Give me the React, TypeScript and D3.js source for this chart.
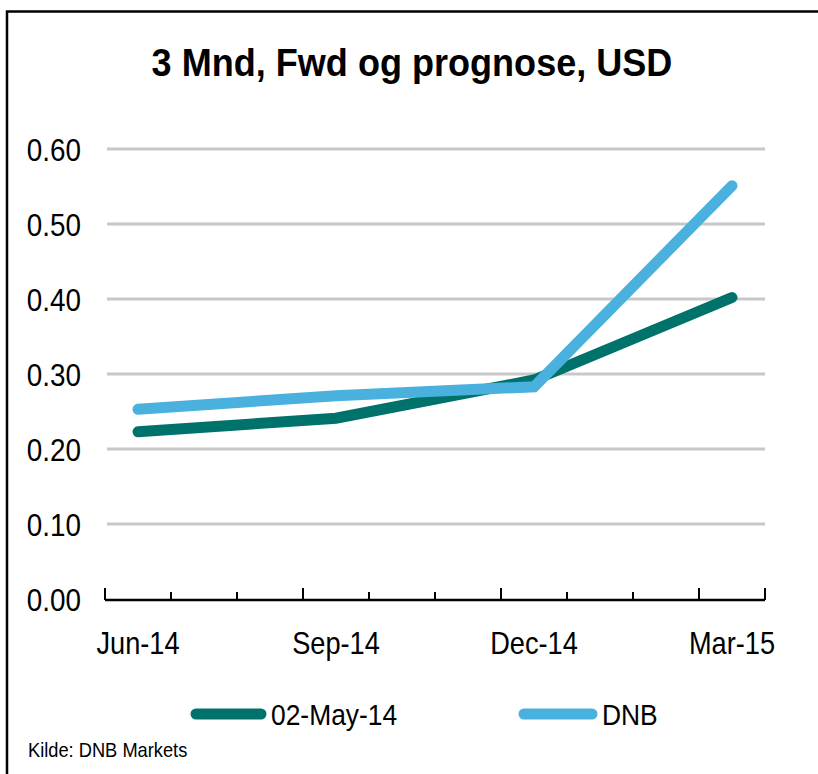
import React from 'react';
import * as d3 from 'd3';

const months = ['Jun-14', 'Jul-14', 'Aug-14', 'Sep-14', 'Oct-14', 'Nov-14', 'Dec-14', 'Jan-15', 'Feb-15', 'Mar-15'];
const pointMonths = ['Jun-14', 'Sep-14', 'Dec-14', 'Mar-15'];
const fwd = [0.223, 0.241, 0.292, 0.402];
const dnb = [0.253, 0.271, 0.283, 0.551];
const yTicks = [0, 0.1, 0.2, 0.3, 0.4, 0.5, 0.6];
const seriesNames = ['02-May-14', 'DNB'];

const W = 818;
const H = 774;
const FONT = '"Liberation Sans", Arial, sans-serif';
const GREEN = '#00726c';
const BLUE = '#4ab1df';

// narrow-looking text: squeeze horizontally
function Narrow(props: { x: number; y: number; sx: number; size: number; anchor?: string; dy?: string; bold?: boolean; children: React.ReactNode }) {
  return (
    <text
      transform={`translate(${props.x},${props.y}) scale(${props.sx},1)`}
      dy={props.dy}
      textAnchor={props.anchor || 'start'}
      fontFamily={FONT}
      fontWeight={props.bold ? 'bold' : 'normal'}
      fontSize={props.size}
    >
      {props.children}
    </text>
  );
}

export default function App() {
  const x = d3.scaleBand().domain(months).range([105, 765]).paddingInner(0).paddingOuter(0);
  const y = d3.scaleLinear().domain([0, 0.6]).range([599, 149]);
  const cx = (m: string) => (x(m) as number) + x.bandwidth() / 2;

  const line = d3
    .line<number>()
    .x((_, i) => cx(pointMonths[i]))
    .y((d) => y(d));

  const tickPos = d3.range(months.length + 1).map((i) => 105 + i * x.bandwidth());

  return (
    <svg width={W} height={H} style={{ position: 'absolute', left: 0, top: 0, background: '#fff' }}>
      {/* frame */}
      <path d={`M7,${H} V11.5 H${W}`} fill="none" stroke="#000" strokeWidth={2.5} />

      <Narrow x={412} y={76} sx={0.925} size={39} anchor="middle" bold>
        3 Mnd, Fwd og prognose, USD
      </Narrow>

      {/* grid */}
      {yTicks.filter((t) => t > 0).map((t) => (
        <line key={t} x1={107} x2={765} y1={y(t)} y2={y(t)} stroke="#c8c8c8" strokeWidth={3} />
      ))}

      {/* y labels */}
      {yTicks.map((t) => (
        <Narrow key={t} x={81} y={y(t)} dy="0.36em" sx={0.87} size={32} anchor="end">
          {t.toFixed(2)}
        </Narrow>
      ))}

      {/* lines */}
      <path d={line(fwd) || ''} fill="none" stroke={GREEN} strokeWidth={11} strokeLinecap="round" strokeLinejoin="miter" />
      <path d={line(dnb) || ''} fill="none" stroke={BLUE} strokeWidth={11} strokeLinecap="round" strokeLinejoin="miter" />

      {/* x axis */}
      <line x1={105} x2={765} y1={600} y2={600} stroke="#000" strokeWidth={2.5} />
      {tickPos.map((p, i) => {
        const major = i % 3 === 0 || i === months.length;
        return <line key={i} x1={p} x2={p} y1={600} y2={major ? 588 : 592} stroke="#000" strokeWidth={2} />;
      })}
      {pointMonths.map((m) => (
        <Narrow key={m} x={cx(m)} y={654} sx={0.85} size={32} anchor="middle">
          {m}
        </Narrow>
      ))}

      {/* legend */}
      <line x1={196} x2={261} y1={714} y2={714} stroke={GREEN} strokeWidth={11} strokeLinecap="round" />
      <Narrow x={271} y={725} sx={0.88} size={30}>{seriesNames[0]}</Narrow>
      <line x1={524} x2={592} y1={714} y2={714} stroke={BLUE} strokeWidth={11} strokeLinecap="round" />
      <Narrow x={602} y={725} sx={0.88} size={30}>{seriesNames[1]}</Narrow>

      <Narrow x={28} y={757} sx={0.87} size={21}>Kilde: DNB Markets</Narrow>
    </svg>
  );
}
